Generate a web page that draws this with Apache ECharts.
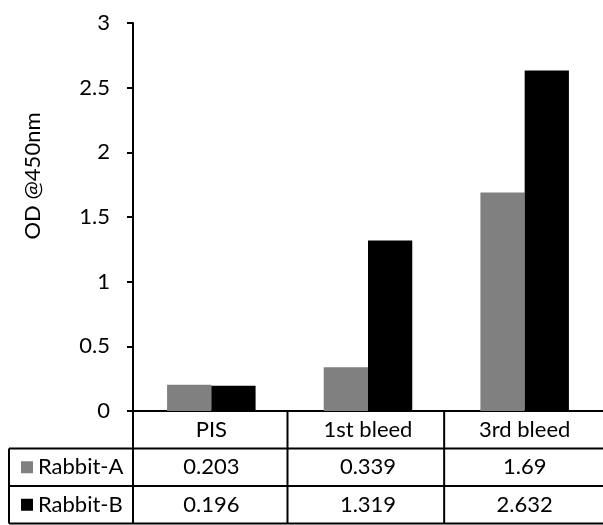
<!DOCTYPE html>
<html>
<head>
<meta charset="utf-8">
<script src="https://cdn.jsdelivr.net/npm/echarts@6/dist/echarts.min.js"></script>
<style>
html,body{margin:0;padding:0;background:#fff;}
#chart{width:603px;height:525px;}
</style>
</head>
<body>
<div id="chart"></div>
<script>
var categories = ['PIS', '1st bleed', '3rd bleed'];
var seriesNames = ['Rabbit-A', 'Rabbit-B'];
var rabbitA = [0.203, 0.339, 1.69];
var rabbitB = [0.196, 1.319, 2.632];
var yTicks = [0, 0.5, 1, 1.5, 2, 2.5, 3];
var yName = 'OD @450nm';

var FONT = 'Lato, "Open Sans", sans-serif';
var FS = 22;
var chart = echarts.init(document.getElementById('chart'), null, {renderer: 'canvas'});

var gridLeft = 133, gridTop = 23, gridW = 483, gridH = 388;
var rowH = 37.5;

chart.setOption({
  animation: false,
  backgroundColor: '#ffffff',
  grid: {left: gridLeft, top: gridTop, width: gridW, height: gridH, containLabel: false},
  xAxis: {
    type: 'category',
    data: categories,
    axisLine: {show: true, lineStyle: {color: '#000', width: 2}},
    axisTick: {show: false},
    axisLabel: {show: false},
    splitLine: {show: false}
  },
  yAxis: {
    type: 'value',
    min: yTicks[0],
    max: yTicks[yTicks.length - 1],
    interval: 0.5,
    axisLine: {show: true, lineStyle: {color: '#000', width: 2}},
    axisTick: {show: true, length: 6, lineStyle: {color: '#000', width: 2}},
    axisLabel: {color: '#000', fontFamily: FONT, fontSize: FS, margin: 23},
    splitLine: {show: false}
  },
  series: [
    {name: seriesNames[0], type: 'bar', data: rabbitA, barGap: '0%', barCategoryGap: '43.5%',
     itemStyle: {color: '#808080'}},
    {name: seriesNames[1], type: 'bar', data: rabbitB, barGap: '0%', barCategoryGap: '43.5%',
     itemStyle: {color: '#000000'}}
  ]
});

// Build the data table under the axis using the library's own x scale
var y0 = gridTop + gridH;
var xs = categories.map(function (c) { return chart.convertToPixel({xAxisIndex: 0}, c); });
var half = gridW / categories.length / 2;
var g = [];
var lineStyle = {stroke: '#000', lineWidth: 2};
function hline(x1, x2, y) { g.push({type: 'line', shape: {x1: x1, y1: y, x2: x2, y2: y}, style: lineStyle, z: 10}); }
function vline(x, y1, y2) { g.push({type: 'line', shape: {x1: x, y1: y1, x2: x, y2: y2}, style: lineStyle, z: 10}); }
function txt(x, y, s, align) {
  g.push({type: 'text', x: x, y: y, style: {text: s, fill: '#000', font: FS + 'px ' + FONT, textAlign: align || 'center', textVerticalAlign: 'middle'}, z: 10});
}
hline(9, 603, y0 + rowH);
hline(9, 603, y0 + rowH * 2);
hline(9, 603, y0 + rowH * 3);
vline(9, y0 + rowH, y0 + rowH * 3);
vline(gridLeft, y0, y0 + rowH * 3);
for (var i = 1; i < categories.length; i++) vline(xs[i] - half, y0, y0 + rowH * 3);
vline(xs[categories.length - 1] + half, y0, y0 + rowH * 3);
categories.forEach(function (c, i) { txt(xs[i], y0 + rowH * 0.5, c); });
var rows = [rabbitA, rabbitB];
var colors = ['#808080', '#000000'];
rows.forEach(function (vals, r) {
  var cy = y0 + rowH * (r + 1.5);
  g.push({type: 'rect', shape: {x: 21, y: cy - 6, width: 12, height: 12}, style: {fill: colors[r]}, z: 10});
  txt(38, cy, seriesNames[r], 'left');
  vals.forEach(function (v, i) { txt(xs[i], cy, String(v)); });
});
g.push({type: 'text', x: 33, y: 176, rotation: Math.PI / 2,
  style: {text: yName, fill: '#000', font: FS + 'px ' + FONT, textAlign: 'center', textVerticalAlign: 'middle'}, z: 10});

chart.setOption({graphic: g});
</script>
</body>
</html>
